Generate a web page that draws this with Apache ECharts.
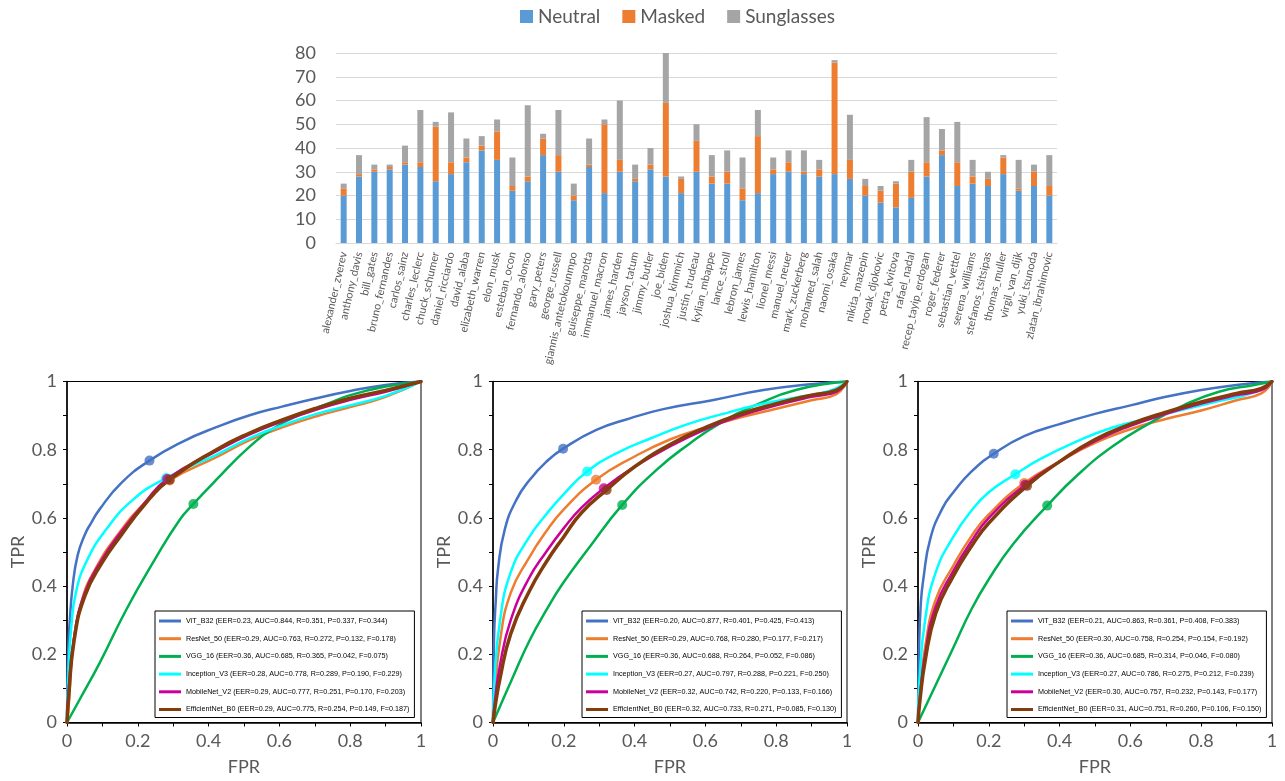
<!DOCTYPE html>
<html><head><meta charset="utf-8">
<script src="https://cdn.jsdelivr.net/npm/echarts@6/dist/echarts.min.js"></script>
<style>html,body{margin:0;padding:0;background:#fff}#c{width:1285px;height:781px}</style>
</head><body><div id="c"></div>
<script>
// ---------- Top stacked bar chart ----------
const categories = ['alexander_zverev','anthony_davis','bill_gates','bruno_fernandes','carlos_sainz','charles_leclerc','chuck_schumer','daniel_ricciardo','david_alaba','elizabeth_warren','elon_musk','esteban_ocon','fernando_alonso','gary_peters','george_russell','giannis_antetokounmpo','guiseppe_marotta','immanuel_macron','james_harden','jayson_tatum','jimmy_butler','joe_biden','joshua_kimmich','justin_trudeau','kylian_mbappe','lance_stroll','lebron_james','lewis_hamilton','lionel_messi','manuel_neuer','mark_zuckerberg','mohamed_salah','naomi_osaka','neymar','nikita_mazepin','novak_djokovic','petra_kvitova','rafael_nadal','recep_tayip_erdogan','roger_federer','sebastian_vettel','serena_williams','stefanos_tsitsipas','thomas_muller','virgil_van_dijk','yuki_tsunoda','zlatan_ibrahimovic'];
const neutral =    [20,28,30,31,33,32,26,29,34,39,35,22,26,37,30,18,32,21,30,26,31,28,21,30,25,25,18,21,29,30,29,28,29,27,20,17,15,19,28,37,24,25,24,29,22,24,20];
const masked =     [3,1,1,1,1,2,23,5,2,2,12,2,2,7,7,2,1,29,5,1,2,31,6,13,3,5,5,24,2,4,1,3,47,8,4,5,10,11,6,2,10,3,3,7,1,6,4];
const sunglasses = [2,8,2,1,7,22,2,21,8,4,5,12,30,2,19,5,11,2,25,6,7,21,1,7,9,9,13,11,5,5,9,4,1,19,3,2,1,5,19,9,17,7,3,1,12,3,13];
const barSeriesNames = ['Neutral','Masked','Sunglasses'];
const barTicks = [0,10,20,30,40,50,60,70,80];

// ---------- ROC curves ----------
const models = ['ViT_B32','ResNet_50','VGG_16','Inception_V3','MobileNet_V2','EfficientNet_B0'];
const rocTicks = [0,0.1,0.2,0.3,0.4,0.5,0.6,0.7,0.8,0.9,1];

const stats1 = ['EER=0.23, AUC=0.844, R=0.351, P=0.337, F=0.344','EER=0.29, AUC=0.763, R=0.272, P=0.132, F=0.178','EER=0.36, AUC=0.685, R=0.365, P=0.042, F=0.075','EER=0.28, AUC=0.778, R=0.289, P=0.190, F=0.229','EER=0.29, AUC=0.777, R=0.251, P=0.170, F=0.203','EER=0.29, AUC=0.775, R=0.254, P=0.149, F=0.187'];
const stats2 = ['EER=0.20, AUC=0.877, R=0.401, P=0.425, F=0.413','EER=0.29, AUC=0.768, R=0.280, P=0.177, F=0.217','EER=0.36, AUC=0.688, R=0.264, P=0.052, F=0.086','EER=0.27, AUC=0.797, R=0.288, P=0.221, F=0.250','EER=0.32, AUC=0.742, R=0.220, P=0.133, F=0.166','EER=0.32, AUC=0.733, R=0.271, P=0.085, F=0.130'];
const stats3 = ['EER=0.21, AUC=0.863, R=0.361, P=0.408, F=0.383','EER=0.30, AUC=0.758, R=0.254, P=0.154, F=0.192','EER=0.36, AUC=0.685, R=0.314, P=0.046, F=0.080','EER=0.27, AUC=0.786, R=0.275, P=0.212, F=0.239','EER=0.30, AUC=0.757, R=0.232, P=0.143, F=0.177','EER=0.31, AUC=0.751, R=0.260, P=0.106, F=0.150'];

// plot 1
const p1_vit = [[0,0],[0.003,0.2],[0.008,0.3],[0.016,0.4],[0.03,0.49],[0.05,0.55],[0.068,0.585],[0.092,0.625],[0.153,0.702],[0.233,0.768],[0.327,0.824],[0.422,0.866],[0.516,0.901],[0.61,0.927],[0.705,0.951],[0.8,0.972],[0.9,0.99],[1,1]];
const p1_res = [[0,0],[0.005,0.05],[0.015,0.2],[0.04,0.35],[0.08,0.45],[0.15,0.56],[0.22,0.645],[0.29,0.71],[0.422,0.778],[0.516,0.828],[0.61,0.866],[0.705,0.898],[0.8,0.925],[0.9,0.955],[1,1]];
const p1_vgg = [[0,0],[0.035,0.066],[0.092,0.174],[0.167,0.33],[0.247,0.476],[0.318,0.594],[0.357,0.641],[0.422,0.712],[0.516,0.809],[0.592,0.868],[0.657,0.902],[0.742,0.937],[0.8,0.96],[0.9,0.985],[1,1]];
const p1_inc = [[0,0],[0.004,0.15],[0.012,0.28],[0.025,0.38],[0.054,0.47],[0.11,0.565],[0.186,0.653],[0.28,0.717],[0.422,0.785],[0.516,0.834],[0.61,0.872],[0.705,0.905],[0.8,0.93],[0.9,0.958],[1,1]];
const p1_mob = [[0,0],[0.005,0.1],[0.02,0.25],[0.05,0.38],[0.1,0.48],[0.15,0.555],[0.22,0.645],[0.283,0.714],[0.422,0.796],[0.516,0.845],[0.61,0.884],[0.705,0.918],[0.8,0.946],[0.9,0.97],[1,1]];
const p1_eff = [[0,0],[0.005,0.08],[0.02,0.24],[0.05,0.37],[0.1,0.47],[0.15,0.545],[0.22,0.64],[0.29,0.712],[0.422,0.8],[0.516,0.849],[0.61,0.888],[0.705,0.922],[0.8,0.951],[0.9,0.974],[1,1]];
const p1_eer = [[0.233,0.768],[0.29,0.71],[0.357,0.641],[0.28,0.717],[0.283,0.714],[0.29,0.712]];

// plot 2
const p2_vit = [[0,0],[0.003,0.25],[0.008,0.36],[0.014,0.448],[0.033,0.565],[0.066,0.653],[0.104,0.712],[0.151,0.765],[0.198,0.803],[0.292,0.858],[0.387,0.892],[0.481,0.919],[0.623,0.946],[0.764,0.975],[0.906,0.993],[1,1]];
const p2_res = [[0,0],[0.005,0.08],[0.02,0.24],[0.05,0.38],[0.1,0.48],[0.15,0.56],[0.2,0.625],[0.291,0.712],[0.4,0.78],[0.5,0.83],[0.6,0.865],[0.7,0.895],[0.8,0.92],[0.9,0.945],[0.97,0.963],[1,1]];
const p2_vgg = [[0,0],[0.057,0.135],[0.104,0.242],[0.151,0.33],[0.198,0.409],[0.274,0.516],[0.365,0.638],[0.462,0.741],[0.557,0.819],[0.642,0.878],[0.745,0.932],[0.858,0.976],[1,1]];
const p2_inc = [[0,0],[0.004,0.12],[0.02,0.3],[0.05,0.44],[0.1,0.54],[0.15,0.61],[0.2,0.67],[0.266,0.736],[0.35,0.79],[0.45,0.835],[0.55,0.875],[0.65,0.905],[0.75,0.932],[0.85,0.952],[0.95,0.972],[1,1]];
const p2_mob = [[0,0],[0.005,0.06],[0.02,0.17],[0.05,0.3],[0.1,0.42],[0.15,0.5],[0.2,0.57],[0.25,0.63],[0.313,0.687],[0.4,0.75],[0.5,0.81],[0.6,0.86],[0.7,0.9],[0.8,0.93],[0.9,0.955],[0.97,0.97],[1,1]];
const p2_eff = [[0,0],[0.005,0.04],[0.02,0.13],[0.05,0.26],[0.1,0.38],[0.15,0.47],[0.2,0.545],[0.25,0.615],[0.321,0.682],[0.4,0.75],[0.5,0.815],[0.6,0.865],[0.7,0.905],[0.8,0.935],[0.9,0.96],[0.97,0.975],[1,1]];
const p2_eer = [[0.198,0.803],[0.291,0.712],[0.365,0.638],[0.266,0.736],[0.313,0.687],[0.321,0.682]];

// plot 3
const p3_vit = [[0,0],[0.003,0.22],[0.008,0.35],[0.015,0.42],[0.035,0.54],[0.07,0.63],[0.1,0.675],[0.15,0.735],[0.214,0.788],[0.3,0.84],[0.4,0.875],[0.5,0.905],[0.6,0.93],[0.7,0.955],[0.8,0.975],[0.9,0.99],[1,1]];
const p3_res = [[0,0],[0.005,0.08],[0.02,0.22],[0.05,0.36],[0.1,0.46],[0.15,0.545],[0.2,0.61],[0.3,0.702],[0.4,0.765],[0.5,0.82],[0.6,0.86],[0.7,0.89],[0.8,0.915],[0.9,0.945],[0.97,0.965],[1,1]];
const p3_vgg = [[0,0],[0.05,0.11],[0.1,0.22],[0.15,0.33],[0.2,0.42],[0.27,0.525],[0.365,0.636],[0.45,0.725],[0.55,0.81],[0.65,0.875],[0.75,0.93],[0.85,0.97],[0.95,0.99],[1,1]];
const p3_inc = [[0,0],[0.004,0.12],[0.02,0.3],[0.05,0.44],[0.1,0.545],[0.15,0.62],[0.2,0.675],[0.275,0.728],[0.35,0.775],[0.45,0.825],[0.55,0.865],[0.65,0.892],[0.75,0.918],[0.85,0.943],[0.95,0.968],[1,1]];
const p3_mob = [[0,0],[0.005,0.07],[0.02,0.2],[0.05,0.34],[0.1,0.445],[0.15,0.53],[0.2,0.6],[0.303,0.697],[0.4,0.765],[0.5,0.825],[0.6,0.87],[0.7,0.905],[0.8,0.935],[0.9,0.96],[0.97,0.975],[1,1]];
const p3_eff = [[0,0],[0.005,0.06],[0.02,0.18],[0.05,0.32],[0.1,0.43],[0.15,0.515],[0.2,0.585],[0.308,0.694],[0.4,0.765],[0.5,0.83],[0.6,0.875],[0.7,0.91],[0.8,0.94],[0.9,0.965],[0.97,0.98],[1,1]];
const p3_eer = [[0.214,0.788],[0.3,0.702],[0.365,0.636],[0.275,0.728],[0.303,0.697],[0.308,0.694]];

// ---------- styling ----------
const barColors = ['#5B9BD5','#ED7D31','#A5A5A5'];
const rocColors = ['#4472C4','#ED7D31','#00B050','#00FFFF','#CC0099','#843C0C'];
const rocWidths = [2.5,2.5,2.5,2.5,2.5,3.5];
const txt = '#595959';
const font = 'Lato';

const plots = [
  {curves:[p1_vit,p1_res,p1_vgg,p1_inc,p1_mob,p1_eff], eer:p1_eer, stats:stats1, left:67, legendLeft:155},
  {curves:[p2_vit,p2_res,p2_vgg,p2_inc,p2_mob,p2_eff], eer:p2_eer, stats:stats2, left:493, legendLeft:582},
  {curves:[p3_vit,p3_res,p3_vgg,p3_inc,p3_mob,p3_eff], eer:p3_eer, stats:stats3, left:918, legendLeft:1007}
];

const grid = [{left:336, top:53, width:721, height:190, containLabel:false}];
const xAxis = [{
  type:'category', gridIndex:0, data:categories,
  axisLine:{lineStyle:{color:'#D9D9D9', width:1}}, axisTick:{show:false},
  axisLabel:{interval:0, rotate:77, fontSize:11, color:txt, fontFamily:font, margin:9}
}];
const yAxis = [{
  type:'value', gridIndex:0, min:barTicks[0], max:barTicks[barTicks.length-1], interval:barTicks[1]-barTicks[0],
  axisLine:{show:false}, axisTick:{show:false},
  axisLabel:{fontSize:18, color:txt, fontFamily:font, margin:20},
  splitLine:{lineStyle:{color:'#D9D9D9', width:1}}
}];
const series = [];
const barData = [neutral, masked, sunglasses];
barSeriesNames.forEach((n,i)=>{
  series.push({type:'bar', name:n, stack:'total', xAxisIndex:0, yAxisIndex:0, data:barData[i],
    barWidth:6, itemStyle:{color:barColors[i]}, emphasis:{disabled:true}});
});
const legend = [{
  data:barSeriesNames, left:515, top:2, itemWidth:13, itemHeight:13, itemGap:22, icon:'rect',
  textStyle:{fontSize:19, color:txt, fontFamily:font}, selectedMode:false
}];

const tickFmt = v => { const k = Math.round(v*10); return k%2===0 ? String(k/10) : ''; };

plots.forEach((p,pi)=>{
  const gi = pi+1;
  grid.push({left:p.left, top:381.5, width:354, height:341, show:true, borderColor:'#000', borderWidth:1});
  xAxis.push({type:'value', gridIndex:gi, min:rocTicks[0], max:rocTicks[rocTicks.length-1], interval:rocTicks[1]-rocTicks[0],
    name:'FPR', nameLocation:'middle', nameGap:36, nameTextStyle:{fontSize:18, color:txt, fontFamily:font},
    axisLine:{lineStyle:{color:'#000', width:1.5}}, axisTick:{length:4, lineStyle:{color:'#000'}},
    axisLabel:{fontSize:18, color:txt, fontFamily:font, margin:10, formatter:tickFmt},
    splitLine:{show:false}});
  yAxis.push({type:'value', gridIndex:gi, min:rocTicks[0], max:rocTicks[rocTicks.length-1], interval:rocTicks[1]-rocTicks[0],
    name:'TPR', nameLocation:'middle', nameGap:40, nameTextStyle:{fontSize:18, color:txt, fontFamily:font},
    axisLine:{lineStyle:{color:'#000', width:1.5}}, axisTick:{length:4, lineStyle:{color:'#000'}},
    axisLabel:{fontSize:18, color:txt, fontFamily:font, margin:10, formatter:tickFmt},
    splitLine:{show:false}});
  const names = models.map((m,i)=> m + ' (' + p.stats[i] + ')');
  p.curves.forEach((c,i)=>{
    series.push({type:'line', name:names[i], xAxisIndex:gi, yAxisIndex:gi, data:c, showSymbol:false, symbol:'none',
      smooth:0.5, lineStyle:{color:rocColors[i], width:rocWidths[i], join:'round', cap:'round'}, itemStyle:{color:rocColors[i]},
      emphasis:{disabled:true}, z:2+i});
  });
  series.push({type:'scatter', name:'EER'+gi, xAxisIndex:gi, yAxisIndex:gi, symbolSize:10, z:20,
    data:p.eer.map((v,i)=>({value:v, itemStyle:{color:rocColors[i]}})), emphasis:{disabled:true}});
  legend.push({data:names, orient:'vertical', left:p.legendLeft, top:611, icon:'rect', itemWidth:22, itemHeight:3,
    itemGap:7.7, padding:[5,5,3,4], borderColor:'#000', borderWidth:1, backgroundColor:'#fff', selectedMode:false,
    textStyle:{fontSize:7.2, lineHeight:10, color:'#000', fontFamily:'Liberation Sans'}});
});

const chart = echarts.init(document.getElementById('c'), null, {renderer:'canvas'});
chart.setOption({animation:false, backgroundColor:'#fff', grid, xAxis, yAxis, series, legend, tooltip:{show:false}});
</script>
</body></html>
